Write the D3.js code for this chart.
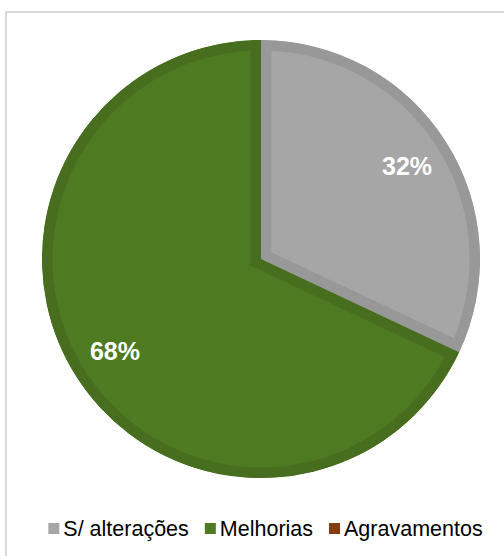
<!DOCTYPE html>
<html>
<head>
<meta charset="utf-8">
<script src="https://cdn.jsdelivr.net/npm/d3@7"></script>
<style>
  html, body { margin: 0; padding: 0; background: #fff; }
  svg { display: block; }
</style>
</head>
<body>
<svg id="chart" width="504" height="556"></svg>
<script>
// Distribution of outcomes (percent)
const categories = ["S/ alterações", "Melhorias", "Agravamentos"];
const values = [32, 68, 0];
const fills = ["#a6a6a6", "#4e7a21", "#843c0c"];
const borders = ["#989898", "#466e1e", "#70320a"];

const svg = d3.select("#chart");

// chart area frame
svg.append("rect")
  .attr("x", 6).attr("y", 12)
  .attr("width", 600).attr("height", 600)
  .attr("fill", "none")
  .attr("stroke", "#d9d9d9")
  .attr("stroke-width", 2);

const cx = 261, cy = 259, R = 219;

const pie = d3.pie().sort(null).value(d => d.value);
const data = categories.map((c, i) => ({ name: c, value: values[i], i }));
const arcs = pie(data);
const arc = d3.arc().innerRadius(0).outerRadius(R);
const labelArc = d3.arc().innerRadius(173).outerRadius(173);

const defs = svg.append("defs");

arcs.filter(a => a.data.value > 0).forEach(a => {
  const id = "clip-" + a.data.i;
  defs.append("clipPath").attr("id", id)
    .append("path").attr("d", arc(a)).attr("transform", `translate(${cx},${cy})`);
  // slice body with an inner border band
  svg.append("g").attr("clip-path", `url(#${id})`)
    .append("path")
    .attr("transform", `translate(${cx},${cy})`)
    .attr("d", arc(a))
    .attr("fill", fills[a.data.i])
    .attr("stroke", borders[a.data.i])
    .attr("stroke-width", 21)
    .attr("stroke-linejoin", "miter");
});

// percentage labels
const lg = svg.append("g").attr("transform", `translate(${cx},${cy})`);
arcs.filter(a => a.data.value > 0).forEach(a => {
  const [x, y] = labelArc.centroid(a);
  lg.append("text")
    .attr("x", x).attr("y", y)
    .attr("dy", "0.35em")
    .attr("text-anchor", "middle")
    .attr("font-family", "Liberation Sans, Arial, sans-serif")
    .attr("font-weight", "bold")
    .attr("font-size", 25)
    .attr("fill", "#ffffff")
    .text(a.data.value + "%");
});

// legend
const legend = svg.append("g");
const sq = 11, gapText = 4, gapItem = 16, baseY = 536;
const items = categories.map((c, i) => {
  const it = legend.append("g");
  it.append("rect").attr("width", sq).attr("height", sq).attr("y", -13)
    .attr("fill", fills[i]);
  const t = it.append("text")
    .attr("x", sq + gapText).attr("y", 0)
    .attr("font-family", "Liberation Sans, Arial, sans-serif")
    .attr("font-size", 21.5)
    .attr("fill", "#000")
    .text(c);
  return { it, w: sq + gapText + t.node().getComputedTextLength() };
});
const total = d3.sum(items, d => d.w) + gapItem * (items.length - 1);
let x0 = 265.5 - total / 2;
items.forEach(d => {
  d.it.attr("transform", `translate(${x0},${baseY})`);
  x0 += d.w + gapItem;
});
</script>
</body>
</html>
